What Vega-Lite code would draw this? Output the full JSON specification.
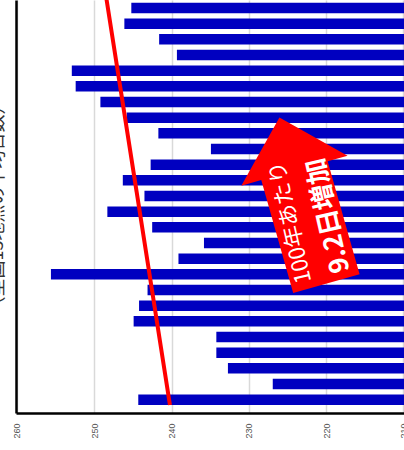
{
  "$schema": "https://vega.github.io/schema/vega-lite/v6.json",
  "description": "Rotated bar chart of yearly day counts with a red trend line and an arrow annotation.",
  "width": 388,
  "height": 413,
  "autosize": {"type": "none"},
  "padding": {"left": 16, "top": 0, "right": 0, "bottom": 37},
  "background": "white",
  "config": {
    "view": {"stroke": null},
    "font": "Liberation Sans"
  },
  "datasets": {
    "bars": [
      {"index": 1, "days": 244.3},
      {"index": 2, "days": 226.9},
      {"index": 3, "days": 232.7},
      {"index": 4, "days": 234.2},
      {"index": 5, "days": 234.2},
      {"index": 6, "days": 244.9},
      {"index": 7, "days": 244.2},
      {"index": 8, "days": 243.1},
      {"index": 9, "days": 255.6},
      {"index": 10, "days": 239.1},
      {"index": 11, "days": 235.8},
      {"index": 12, "days": 242.5},
      {"index": 13, "days": 248.3},
      {"index": 14, "days": 243.5},
      {"index": 15, "days": 246.3},
      {"index": 16, "days": 242.7},
      {"index": 17, "days": 234.9},
      {"index": 18, "days": 241.7},
      {"index": 19, "days": 245.8},
      {"index": 20, "days": 249.2},
      {"index": 21, "days": 252.4},
      {"index": 22, "days": 252.9},
      {"index": 23, "days": 239.3},
      {"index": 24, "days": 241.6},
      {"index": 25, "days": 246.1},
      {"index": 26, "days": 245.2}
    ],
    "trend": [
      {"index": 0.66, "days": 240.2},
      {"index": 27, "days": 248.55}
    ],
    "note": [
      {"label": "増加"}
    ]
  },
  "layer": [
    {
      "data": {"name": "bars"},
      "mark": {"type": "bar", "orient": "horizontal", "size": 10.5, "color": "#0000C0", "clip": true},
      "encoding": {
        "x": {
          "field": "days",
          "type": "quantitative",
          "scale": {"domain": [209.92, 260.12], "reverse": true, "nice": false, "zero": false},
          "axis": {
            "orient": "bottom",
            "title": null,
            "values": [210, 220, 230, 240, 250, 260],
            "labelAngle": -90,
            "labelFontSize": 9,
            "labelColor": "#555555",
            "labelFlush": false,
            "labelPadding": 10,
            "ticks": false,
            "tickSize": 0,
            "domainColor": "#000000",
            "domainWidth": 2.5,
            "grid": true,
            "gridColor": "#d9d9d9",
            "gridWidth": 1.5
          }
        },
        "x2": {"datum": 200},
        "y": {
          "field": "index",
          "type": "quantitative",
          "scale": {"domain": [0.47, 26.19], "nice": false, "zero": false},
          "axis": {
            "orient": "left",
            "labels": false,
            "ticks": false,
            "grid": false,
            "domainColor": "#000000",
            "domainWidth": 2.5,
            "title": "（全国13地点の平均日数）",
            "titleFont": "Noto Sans CJK JP",
            "titleFontSize": 18,
            "titleFontWeight": "normal",
            "titleColor": "#333333",
            "titleAngle": -90,
            "titleAlign": "center",
            "titleBaseline": "bottom",
            "titleX": -10,
            "titleY": 205
          }
        }
      }
    },
    {
      "data": {"name": "trend"},
      "mark": {"type": "line", "color": "#FF0000", "strokeWidth": 4, "clip": true},
      "encoding": {
        "x": {"field": "days", "type": "quantitative"},
        "y": {"field": "index", "type": "quantitative"}
      }
    },
    {
      "data": {"name": "note"},
      "mark": {
        "type": "point",
        "shape": "M0,-1L0.64,-0.36L0.4,-0.36L0.4,1L-0.4,1L-0.4,-0.36L-0.64,-0.36Z",
        "size": 29756,
        "angle": -15.8,
        "filled": true,
        "color": "#FF0000",
        "opacity": 1,
        "strokeWidth": 0
      },
      "encoding": {
        "x": {"datum": 223.0},
        "y": {"datum": 13.71}
      }
    },
    {
      "data": {"name": "note"},
      "mark": {
        "type": "text",
        "text": "100年あたり",
        "font": "Noto Sans CJK JP",
        "fontSize": 22,
        "fontWeight": "normal",
        "color": "#FFFFFF",
        "angle": -103,
        "align": "center",
        "baseline": "middle"
      },
      "encoding": {
        "x": {"datum": 224.6},
        "y": {"datum": 12.33}
      }
    },
    {
      "data": {"name": "note"},
      "mark": {
        "type": "text",
        "text": "9.2日増加",
        "font": "Noto Sans CJK JP",
        "fontSize": 26,
        "fontWeight": "bold",
        "color": "#FFFFFF",
        "angle": -103,
        "align": "center",
        "baseline": "middle"
      },
      "encoding": {
        "x": {"datum": 219.7},
        "y": {"datum": 12.75}
      }
    }
  ]
}
